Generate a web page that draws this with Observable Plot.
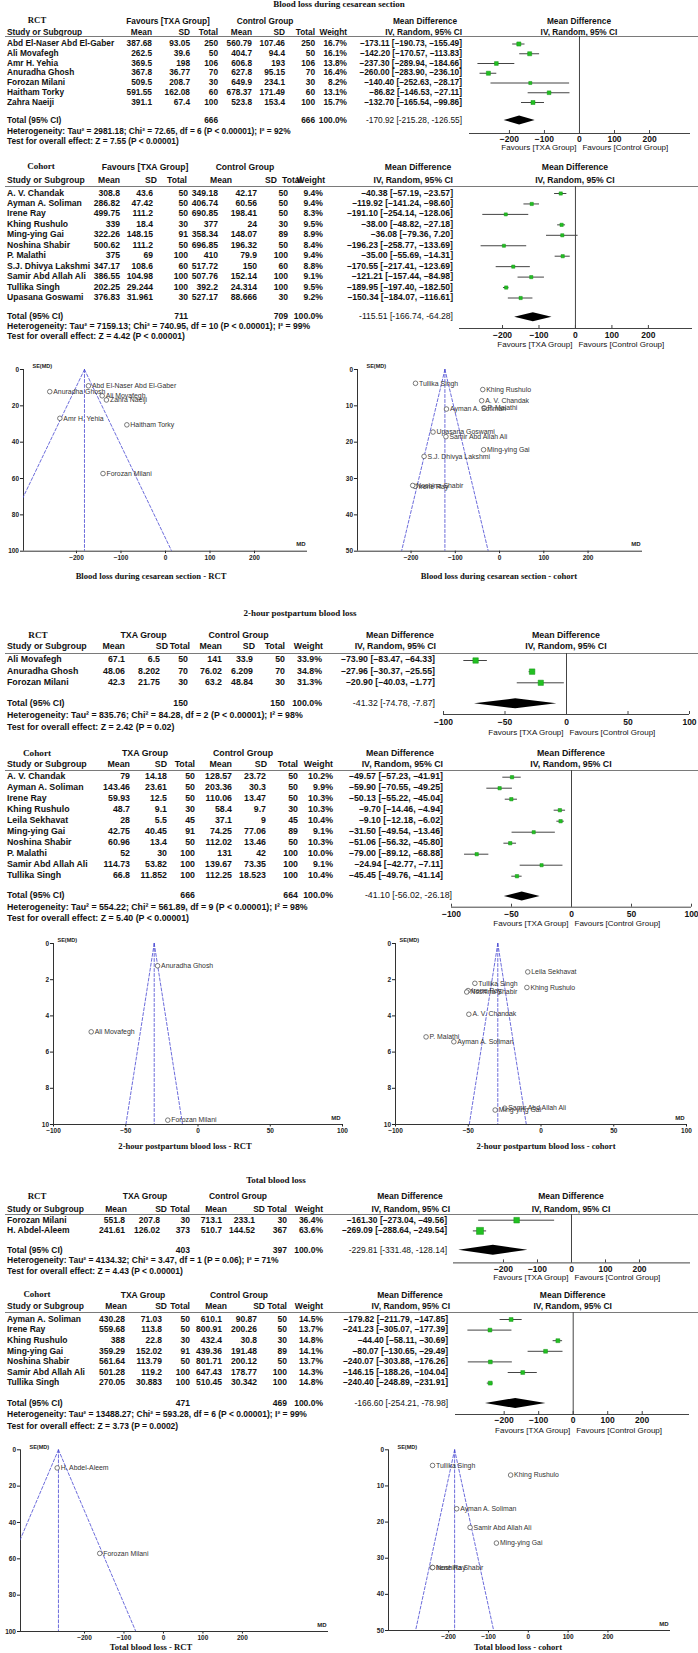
<!DOCTYPE html>
<html><head><meta charset="utf-8">
<script src="https://cdn.jsdelivr.net/npm/d3@7"></script>
<script src="https://cdn.jsdelivr.net/npm/@observablehq/plot@0.6"></script>
<style>
html,body{margin:0;padding:0;background:#fff;}
#page{position:relative;width:698px;height:1653px;overflow:hidden;background:#fff;font-family:"Liberation Sans",Arial,sans-serif;color:#111;}
.t{position:absolute;white-space:nowrap;}
.hl{position:absolute;height:0;border-top:1px solid #7a7a7a;}
</style></head>
<body><div id="page"></div>
<script>
// ================= DATA =================
// row: [study, TXA mean, TXA SD, TXA total, control mean, control SD, control total, weight %, MD, CI low, CI high]

// --- Blood loss during cesarean section: RCT
const cesRct = [
  ["Abd El-Naser Abd El-Gaber", 387.68, 93.05, 250, 560.79, 107.46, 250, 16.7, -173.11, -190.73, -155.49],
  ["Ali Movafegh", 262.5, 39.6, 50, 404.7, 94.4, 50, 16.1, -142.20, -170.57, -113.83],
  ["Amr H. Yehia", 369.5, 198, 106, 606.8, 193, 106, 13.8, -237.30, -289.94, -184.66],
  ["Anuradha Ghosh", 367.8, 36.77, 70, 627.8, 95.15, 70, 16.4, -260.00, -283.90, -236.10],
  ["Forozan Milani", 509.5, 208.7, 30, 649.9, 234.1, 30, 8.2, -140.40, -252.63, -28.17],
  ["Haitham Torky", 591.55, 162.08, 60, 678.37, 171.49, 60, 13.1, -86.82, -146.53, -27.11],
  ["Zahra Naeiji", 391.1, 67.4, 100, 523.8, 153.4, 100, 15.7, -132.70, -165.54, -99.86]
];
const cesRctTotal = [666, 666, 100.0, -170.92, -215.28, -126.55];
const cesRctHet = "Heterogeneity: Tau² = 2981.18; Chi² = 72.65, df = 6 (P < 0.00001); I² = 92%";
const cesRctTest = "Test for overall effect: Z = 7.55 (P < 0.00001)";
const cesRctSE = [8.99, 14.47, 26.86, 12.19, 57.26, 30.46, 16.76];
const cesRctFixed = -182;

// --- Blood loss during cesarean section: cohort
const cesCoh = [
  ["A. V. Chandak", 308.8, 43.6, 50, 349.18, 42.17, 50, 9.4, -40.38, -57.19, -23.57],
  ["Ayman A. Soliman", 286.82, 47.42, 50, 406.74, 60.56, 50, 9.4, -119.92, -141.24, -98.60],
  ["Irene Ray", 499.75, 111.2, 50, 690.85, 198.41, 50, 8.3, -191.10, -254.14, -128.06],
  ["Khing Rushulo", 339, 18.4, 30, 377, 24, 30, 9.5, -38.00, -48.82, -27.18],
  ["Ming-ying Gai", 322.26, 148.15, 91, 358.34, 148.07, 89, 8.9, -36.08, -79.36, 7.20],
  ["Noshina Shabir", 500.62, 111.2, 50, 696.85, 196.32, 50, 8.4, -196.23, -258.77, -133.69],
  ["P. Malathi", 375, 69, 100, 410, 79.9, 100, 9.4, -35.00, -55.69, -14.31],
  ["S.J. Dhivya Lakshmi", 347.17, 108.6, 60, 517.72, 150, 60, 8.8, -170.55, -217.41, -123.69],
  ["Samir Abd Allah Ali", 386.55, 104.98, 100, 507.76, 152.14, 100, 9.1, -121.21, -157.44, -84.98],
  ["Tullika Singh", 202.25, 29.244, 100, 392.2, 24.314, 100, 9.5, -189.95, -197.40, -182.50],
  ["Upasana Goswami", 376.83, 31.961, 30, 527.17, 88.666, 30, 9.2, -150.34, -184.07, -116.61]
];
const cesCohTotal = [711, 709, 100.0, -115.51, -166.74, -64.28];
const cesCohHet = "Heterogeneity: Tau² = 7159.13; Chi² = 740.95, df = 10 (P < 0.00001); I² = 99%";
const cesCohTest = "Test for overall effect: Z = 4.42 (P < 0.00001)";
const cesCohSE = [8.58, 10.88, 32.16, 5.52, 22.08, 31.91, 10.56, 23.91, 18.48, 3.80, 17.21];
const cesCohFixed = -123.5;

// --- 2-hour postpartum blood loss: RCT
const pphRct = [
  ["Ali Movafegh", 67.1, 6.5, 50, 141, 33.9, 50, 33.9, -73.90, -83.47, -64.33],
  ["Anuradha Ghosh", 48.06, 8.202, 70, 76.02, 6.209, 70, 34.8, -27.96, -30.37, -25.55],
  ["Forozan Milani", 42.3, 21.75, 30, 63.2, 48.84, 30, 31.3, -20.90, -40.03, -1.77]
];
const pphRctTotal = [150, 150, 100.0, -41.32, -74.78, -7.87];
const pphRctHet = "Heterogeneity: Tau² = 835.76; Chi² = 84.28, df = 2 (P < 0.00001); I² = 98%";
const pphRctTest = "Test for overall effect: Z = 2.42 (P = 0.02)";
const pphRctSE = [4.88, 1.23, 9.76];
const pphRctFixed = -30.3;

// --- 2-hour postpartum blood loss: cohort
const pphCoh = [
  ["A. V. Chandak", 79, 14.18, 50, 128.57, 23.72, 50, 10.2, -49.57, -57.23, -41.91],
  ["Ayman A. Soliman", 143.46, 23.61, 50, 203.36, 30.3, 50, 9.9, -59.90, -70.55, -49.25],
  ["Irene Ray", 59.93, 12.5, 50, 110.06, 13.47, 50, 10.3, -50.13, -55.22, -45.04],
  ["Khing Rushulo", 48.7, 9.1, 30, 58.4, 9.7, 30, 10.3, -9.70, -14.46, -4.94],
  ["Leila Sekhavat", 28, 5.5, 45, 37.1, 9, 45, 10.4, -9.10, -12.18, -6.02],
  ["Ming-ying Gai", 42.75, 40.45, 91, 74.25, 77.06, 89, 9.1, -31.50, -49.54, -13.46],
  ["Noshina Shabir", 60.96, 13.4, 50, 112.02, 13.46, 50, 10.3, -51.06, -56.32, -45.80],
  ["P. Malathi", 52, 30, 100, 131, 42, 100, 10.0, -79.00, -89.12, -68.88],
  ["Samir Abd Allah Ali", 114.73, 53.82, 100, 139.67, 73.35, 100, 9.1, -24.94, -42.77, -7.11],
  ["Tullika Singh", 66.8, 11.852, 100, 112.25, 18.523, 100, 10.4, -45.45, -49.76, -41.14]
];
const pphCohTotal = [666, 664, 100.0, -41.10, -56.02, -26.18];
const pphCohHet = "Heterogeneity: Tau² = 554.22; Chi² = 561.89, df = 9 (P < 0.00001); I² = 98%";
const pphCohTest = "Test for overall effect: Z = 5.40 (P < 0.00001)";
const pphCohSE = [3.91, 5.43, 2.60, 2.43, 1.57, 9.20, 2.68, 5.16, 9.10, 2.20];
const pphCohFixed = -29.7;

// --- Total blood loss: RCT
const totRct = [
  ["Forozan Milani", 551.8, 207.8, 30, 713.1, 233.1, 30, 36.4, -161.30, -273.04, -49.56],
  ["H. Abdel-Aleem", 241.61, 126.02, 373, 510.7, 144.52, 367, 63.6, -269.09, -288.64, -249.54]
];
const totRctTotal = [403, 397, 100.0, -229.81, -331.48, -128.14];
const totRctHet = "Heterogeneity: Tau² = 4134.32; Chi² = 3.47, df = 1 (P = 0.06); I² = 71%";
const totRctTest = "Test for overall effect: Z = 4.43 (P < 0.00001)";
const totRctSE = [57.01, 9.97];
const totRctFixed = -265.9;

// --- Total blood loss: cohort
const totCoh = [
  ["Ayman A. Soliman", 430.28, 71.03, 50, 610.1, 90.87, 50, 14.5, -179.82, -211.79, -147.85],
  ["Irene Ray", 559.68, 113.8, 50, 800.91, 200.26, 50, 13.7, -241.23, -305.07, -177.39],
  ["Khing Rushulo", 388, 22.8, 30, 432.4, 30.8, 30, 14.8, -44.40, -58.11, -30.69],
  ["Ming-ying Gai", 359.29, 152.02, 91, 439.36, 191.48, 89, 14.1, -80.07, -130.65, -29.49],
  ["Noshina Shabir", 561.64, 113.79, 50, 801.71, 200.12, 50, 13.7, -240.07, -303.88, -176.26],
  ["Samir Abd Allah Ali", 501.28, 119.2, 100, 647.43, 178.77, 100, 14.3, -146.15, -188.26, -104.04],
  ["Tullika Singh", 270.05, 30.883, 100, 510.45, 30.342, 100, 14.8, -240.40, -248.89, -231.91]
];
const totCohTotal = [471, 469, 100.0, -166.60, -254.21, -78.98];
const totCohHet = "Heterogeneity: Tau² = 13488.27; Chi² = 593.28, df = 6 (P < 0.00001); I² = 99%";
const totCohTest = "Test for overall effect: Z = 3.73 (P = 0.0002)";
const totCohSE = [16.31, 32.57, 6.99, 25.81, 32.56, 21.48, 4.33];
const totCohFixed = -185;

const colHeads = ["Mean", "SD", "Total", "Mean", "SD", "Total", "Weight", "IV, Random, 95% CI"];
const ticks200 = [-200, -100, 0, 100, 200];
const ticks100 = [-100, -50, 0, 50, 100];

// ================= RENDERING =================
const W = 698;
const SANS = '"Liberation Sans", Arial, sans-serif';
const SERIF = '"Liberation Serif", "Times New Roman", serif';
const page = document.getElementById("page");

function txt(x, y, s, o = {}) {
  const size = o.size || 8.3;
  const d = document.createElement("div");
  d.className = "t";
  d.textContent = s;
  d.style.fontSize = size + "px";
  d.style.lineHeight = size + "px";
  d.style.fontFamily = o.serif ? SERIF : SANS;
  d.style.fontWeight = o.bold === false ? "normal" : "bold";
  d.style.color = o.color || "#111";
  d.style.top = (y - 0.52 * size) + "px";
  const a = o.anchor || "start";
  if (a === "start") d.style.left = x + "px";
  else if (a === "end") d.style.right = (W - x) + "px";
  else { d.style.left = x + "px"; d.style.transform = "translateX(-50%)"; }
  page.appendChild(d);
}
function hline(x, y, w) {
  const d = document.createElement("div");
  d.className = "hl";
  d.style.left = x + "px"; d.style.top = y + "px"; d.style.width = w + "px";
  page.appendChild(d);
}
function place(svg, left, top) {
  svg.style.position = "absolute";
  svg.style.left = left + "px";
  svg.style.top = top + "px";
  page.appendChild(svg);
}
const num = v => (v < 0 ? "–" : "") + Math.abs(v).toFixed(2);
const numT = v => (v < 0 ? "-" : "") + Math.abs(v).toFixed(2);
const tickFmt = d => (d < 0 ? "−" : "") + Math.abs(d);

function block(L, rows, total, het, test, group, txaLabel, ticks) {
  const fs = L.fs;
  const zeroPx = L.axisL + (0 - L.xDomain[0]) / (L.xDomain[1] - L.xDomain[0]) * (L.axisR - L.axisL);
  // headers
  txt(L.h1[0], L.header1Y, group, {anchor: "middle", serif: true, size: fs + 0.4});
  txt(L.h1[1], L.header1Y, txaLabel, {anchor: "middle", size: fs});
  txt(L.h1[2], L.header1Y, "Control Group", {anchor: "middle", size: fs});
  txt(L.h1[3], L.header1Y, "Mean Difference", {anchor: "middle", size: fs});
  txt(zeroPx, L.header1Y, "Mean Difference", {anchor: "middle", size: fs});
  txt(7, L.header2Y, "Study or Subgroup", {size: fs});
  colHeads.forEach((s, i) => txt(L.h2[i], L.header2Y, s, {anchor: "end", size: fs}));
  txt(zeroPx, L.header2Y, "IV, Random, 95% CI", {anchor: "middle", size: fs});
  hline(5, L.lineY, W - 5);
  // rows
  rows.forEach((r, i) => {
    const y = L.rowY0 + i * L.rowDy;
    txt(7, y, r[0], {size: fs});
    for (let j = 1; j <= 6; j++) txt(L.cols[j - 1], y, String(r[j]), {anchor: "end", size: fs});
    txt(L.cols[6], y, r[7].toFixed(1) + "%", {anchor: "end", size: fs});
    txt(L.cols[7], y, `${num(r[8])} [${num(r[9])}, ${num(r[10])}]`, {anchor: "end", size: fs});
  });
  txt(7, L.totalY, "Total (95% CI)", {size: fs});
  txt(L.cols[2], L.totalY, String(total[0]), {anchor: "end", size: fs});
  txt(L.cols[5], L.totalY, String(total[1]), {anchor: "end", size: fs});
  txt(L.cols[6], L.totalY, total[2].toFixed(1) + "%", {anchor: "end", size: fs});
  txt(L.mdTotal, L.totalY, `${numT(total[3])} [${numT(total[4])}, ${numT(total[5])}]`, {anchor: "end", size: fs, bold: false});
  txt(7, L.hetY, het, {size: fs});
  txt(7, L.testY, test, {size: fs});

  // forest graphic
  const top = L.lineY;
  const height = Math.ceil(L.favY + 8 - top);
  const idx = y => (y - L.rowY0) / L.rowDy;
  const tI = idx(L.totalY), aI = idx(L.axisY), topI = idx(L.lineY);
  const h = L.dh / L.rowDy, tickLen = 3 / L.rowDy;
  const diamond = [
    {y: tI - h, a: total[3], b: total[3]},
    {y: tI, a: total[4], b: total[5]},
    {y: tI + h, a: total[3], b: total[3]}
  ];
  const svg = Plot.plot({
    width: W, height,
    marginLeft: L.axisL, marginRight: W - L.axisR, marginTop: 0, marginBottom: 0,
    x: {domain: L.xDomain, axis: null},
    y: {domain: [0, 1], range: [L.rowY0 - top, L.rowY0 + L.rowDy - top], axis: null},
    r: {type: "pow", exponent: 0.4, domain: [0, 100], range: [0, 4.74]},
    style: {background: "none", fontFamily: SANS, fontSize: "8px", color: "#111", overflow: "visible"},
    marks: [
      Plot.ruleX([0], {y1: () => topI, y2: () => aI, stroke: "#444", strokeWidth: 1}),
      Plot.ruleY([aI], {stroke: "#444", strokeWidth: 1}),
      Plot.ruleX(ticks, {x: d => d, y1: () => aI, y2: () => aI - tickLen, stroke: "#444"}),
      Plot.text(ticks, {x: d => d, y: () => aI, dy: L.tickLabelY - L.axisY, text: tickFmt, fontWeight: "bold", fontSize: 8.5}),
      Plot.text(["Favours [TXA Group]"], {x: () => 0, y: () => aI, dy: L.favY - L.axisY, dx: -3, textAnchor: "end", fontSize: 8}),
      Plot.text(["Favours [Control Group]"], {x: () => 0, y: () => aI, dy: L.favY - L.axisY, dx: 3, textAnchor: "start", fontSize: 8}),
      Plot.ruleY(rows, {y: (d, i) => i, x1: d => d[9], x2: d => d[10], stroke: "#444", strokeWidth: 1}),
      Plot.dot(rows, {x: d => d[8], y: (d, i) => i, r: d => d[7], symbol: "square", fill: "#22c022", stroke: "#169216", strokeWidth: 0.5}),
      Plot.areaX(diamond, {y: "y", x1: "a", x2: "b", fill: "#000"})
    ]
  });
  place(svg, 0, top);
}

function funnel(F, rows, se, center, title) {
  const pts = rows.map((r, i) => ({s: r[0], md: r[8], se: se[i]}));
  const ym = F.yMax;
  const lines = [
    {x: center, y: 0, z: "l"}, {x: center - 1.96 * ym, y: ym, z: "l"},
    {x: center, y: 0, z: "r"}, {x: center + 1.96 * ym, y: ym, z: "r"},
    {x: center, y: 0, z: "c"}, {x: center, y: ym, z: "c"}
  ];
  const svg = Plot.plot({
    width: F.width, height: F.height,
    marginLeft: F.x0 - F.left, marginRight: F.left + F.width - F.x1,
    marginTop: F.y0 - F.top, marginBottom: F.top + F.height - F.y1,
    x: {domain: F.xDomain},
    y: {domain: [0, ym], reverse: true},
    style: {background: "none", fontFamily: SANS, fontSize: "6.5px", fontWeight: "bold", color: "#222", overflow: "visible"},
    marks: [
      Plot.axisX({ticks: F.xTicks, tickSize: 2.5, tickPadding: 1.5, label: null, tickFormat: tickFmt}),
      Plot.axisY({ticks: F.yTicks, tickSize: 3, tickPadding: 1.5, label: null}),
      Plot.ruleX([F.xDomain[0]], {stroke: "#333"}),
      Plot.ruleY([ym], {stroke: "#333"}),
      Plot.line(lines, {x: "x", y: "y", z: "z", stroke: "#4646d2", strokeWidth: 0.8, strokeDasharray: "3,2", clip: true}),
      Plot.dot(pts, {x: "md", y: "se", r: 2.3, stroke: "#444", strokeWidth: 0.7, fill: "white"}),
      Plot.text(pts, {x: "md", y: "se", text: "s", dx: 3.5, textAnchor: "start", fontSize: 6.9, fontWeight: "normal", fill: "#333"}),
      Plot.text(["SE(MD)"], {frameAnchor: "top-left", dx: F.seDx, dy: -5, textAnchor: "start", fontSize: 5.5}),
      Plot.text(["MD"], {frameAnchor: "bottom-right", dx: -2, dy: -5, textAnchor: "end", fontSize: 6})
    ]
  });
  place(svg, F.left, F.top);
  txt(F.titleX, F.titleY, title, {anchor: "middle", serif: true, size: 8.6});
}

// ================= LAYOUT =================
const LA = {header1Y: 21, header2Y: 32, lineY: 36, rowY0: 43.5, rowDy: 9.75, totalY: 120, hetY: 131, testY: 141, fs: 8.3,
  h1: [37, 168, 265, 425], h2: [152, 190, 218, 252, 285, 315, 347, 462], cols: [152, 190, 218, 252, 285, 315, 347, 462], mdTotal: 462,
  axisL: 469, axisR: 690, xDomain: [-314, 317], axisY: 133, tickLabelY: 138.5, favY: 147, dh: 4.5};
const LB = {header1Y: 167, header2Y: 180, lineY: 186, rowY0: 193, rowDy: 10.45, totalY: 316.7, hetY: 326.7, testY: 336.7, fs: 8.6,
  h1: [41, 145, 245, 418], h2: [120, 157, 187, 232, 277, 302, 325, 453], cols: [120, 153, 188, 218, 257, 288, 323, 453], mdTotal: 453,
  axisL: 459, axisR: 692, xDomain: [-318, 321], axisY: 328, tickLabelY: 335, favY: 344, dh: 4.5};
const LC = {header1Y: 635.7, header2Y: 647, lineY: 653, rowY0: 660, rowDy: 11.15, totalY: 703.3, hetY: 715.7, testY: 727.3, fs: 8.8,
  h1: [38, 143.5, 238.5, 400], h2: [125, 168, 190, 222, 255, 285, 323, 436], cols: [125, 160, 188, 222, 253, 285, 322, 435], mdTotal: 435,
  axisL: 443, axisR: 689, xDomain: [-100, 100], axisY: 714, tickLabelY: 721.7, favY: 731.7, dh: 5};
const LD = {header1Y: 753.3, header2Y: 765, lineY: 770, rowY0: 776.7, rowDy: 11.0, totalY: 896, hetY: 907.7, testY: 919, fs: 8.8,
  h1: [37, 145, 243, 400], h2: [130, 167, 195, 232, 267, 298, 333, 443], cols: [130, 167, 195, 232, 266, 298, 333, 443], mdTotal: 452,
  axisL: 451, axisR: 691, xDomain: [-100, 100], axisY: 906.7, tickLabelY: 913.3, favY: 923.3, dh: 4.5};
const LE = {header1Y: 1196.7, header2Y: 1209, lineY: 1214.3, rowY0: 1220, rowDy: 10.7, totalY: 1250, hetY: 1260.7, testY: 1271, fs: 8.5,
  h1: [37, 145, 238, 410], h2: [127, 167, 190, 227, 265, 287, 323, 450], cols: [125, 160, 190, 222, 255, 287, 323, 447], mdTotal: 447,
  axisL: 453, axisR: 690, xDomain: [-347, 350], axisY: 1262.7, tickLabelY: 1269, favY: 1277.7, dh: 5};
const LF = {header1Y: 1295, header2Y: 1306.7, lineY: 1312.3, rowY0: 1319.3, rowDy: 10.6, totalY: 1403.3, hetY: 1414, testY: 1426, fs: 8.5,
  h1: [37, 143, 239, 410], h2: [127, 167, 190, 227, 265, 287, 323, 450], cols: [125, 162, 190, 222, 257, 287, 323, 448], mdTotal: 448,
  axisL: 455, axisR: 689, xDomain: [-341, 337], axisY: 1414.3, tickLabelY: 1420, favY: 1430, dh: 5};

const yT100 = [0, 20, 40, 60, 80, 100], yT50 = [0, 10, 20, 30, 40, 50], yT10 = [0, 2, 4, 6, 8, 10];
const F1a = {left: 0, top: 352, width: 349, height: 214, x0: 23, x1: 307, y0: 369, y1: 550.7, xDomain: [-319, 319], yMax: 100, yTicks: yT100, xTicks: ticks200, seDx: 9, titleX: 151, titleY: 576};
const F1b = {left: 349, top: 352, width: 349, height: 214, x0: 357, x1: 642, y0: 369, y1: 550.7, xDomain: [-321, 323], yMax: 50, yTicks: yT50, xTicks: ticks200, seDx: 9, titleX: 499, titleY: 576};
const F2a = {left: 0, top: 928, width: 349, height: 212, x0: 53, x1: 342, y0: 943, y1: 1124, xDomain: [-100, 100], yMax: 10, yTicks: yT10, xTicks: ticks100, seDx: 4, titleX: 185, titleY: 1146};
const F2b = {left: 349, top: 928, width: 349, height: 212, x0: 395, x1: 686, y0: 943, y1: 1124, xDomain: [-100, 100], yMax: 10, yTicks: yT10, xTicks: ticks100, seDx: 4, titleX: 546, titleY: 1146};
const F3a = {left: 0, top: 1434, width: 349, height: 212, x0: 20, x1: 328, y0: 1449.3, y1: 1631, xDomain: [-362, 418], yMax: 100, yTicks: yT100, xTicks: ticks200, seDx: 9, titleX: 151, titleY: 1647};
const F3b = {left: 349, top: 1434, width: 349, height: 212, x0: 388, x1: 670, y0: 1449.3, y1: 1630, xDomain: [-351, 357], yMax: 50, yTicks: yT50, xTicks: ticks200, seDx: 9, titleX: 518, titleY: 1647};

// ================= DRAW =================
txt(339, 4.5, "Blood loss during cesarean section", {anchor: "middle", serif: true, size: 9});
block(LA, cesRct, cesRctTotal, cesRctHet, cesRctTest, "RCT", "Favours [TXA Group]", ticks200);
block(LB, cesCoh, cesCohTotal, cesCohHet, cesCohTest, "Cohort", "Favours [TXA Group]", ticks200);
funnel(F1a, cesRct, cesRctSE, cesRctFixed, "Blood loss during cesarean section - RCT");
funnel(F1b, cesCoh, cesCohSE, cesCohFixed, "Blood loss during cesarean section - cohort");

txt(300, 614, "2-hour postpartum blood loss", {anchor: "middle", serif: true, size: 9});
block(LC, pphRct, pphRctTotal, pphRctHet, pphRctTest, "RCT", "TXA Group", ticks100);
block(LD, pphCoh, pphCohTotal, pphCohHet, pphCohTest, "Cohort", "TXA Group", ticks100);
funnel(F2a, pphRct, pphRctSE, pphRctFixed, "2-hour postpartum blood loss - RCT");
funnel(F2b, pphCoh, pphCohSE, pphCohFixed, "2-hour postpartum blood loss - cohort");

txt(276, 1181, "Total blood loss", {anchor: "middle", serif: true, size: 9});
block(LE, totRct, totRctTotal, totRctHet, totRctTest, "RCT", "TXA Group", ticks200);
block(LF, totCoh, totCohTotal, totCohHet, totCohTest, "Cohort", "TXA Group", ticks200);
funnel(F3a, totRct, totRctSE, totRctFixed, "Total blood loss - RCT");
funnel(F3b, totCoh, totCohSE, totCohFixed, "Total blood loss - cohort");
</script>
</body></html>
